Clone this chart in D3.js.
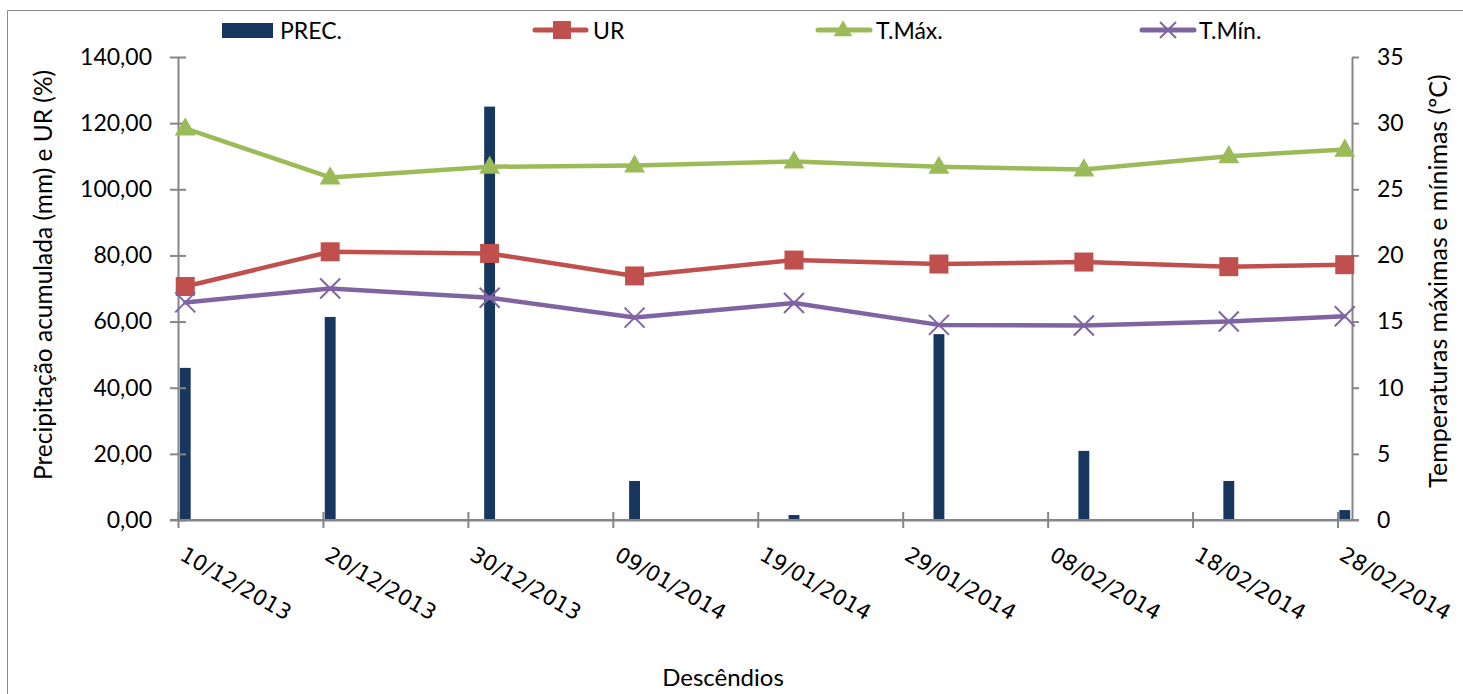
<!DOCTYPE html>
<html>
<head>
<meta charset="utf-8">
<script src="https://cdn.jsdelivr.net/npm/d3@7"></script>
<style>
  html, body { margin: 0; padding: 0; background: #fff; overflow: hidden; }
  svg { display: block; }
</style>
</head>
<body>
<svg id="chart" width="1463" height="694"></svg>
<script>
// ---------- data ----------
const dates   = ["2013-12-10","2013-12-20","2013-12-31","2014-01-10","2014-01-21","2014-01-31","2014-02-10","2014-02-20","2014-02-28"];
const prec    = [46.0, 61.4, 125.0, 11.8, 1.5, 56.2, 20.9, 11.8, 3.0];
const ur      = [70.6, 81.1, 80.6, 73.8, 78.6, 77.4, 78.0, 76.6, 77.2];
const tmax    = [29.6, 25.9, 26.7, 26.8, 27.1, 26.7, 26.5, 27.5, 28.0];
const tmin    = [16.45, 17.5, 16.8, 15.3, 16.4, 14.75, 14.7, 15.0, 15.4];
const tickDates = ["2013-12-10","2013-12-20","2013-12-30","2014-01-09","2014-01-19","2014-01-29","2014-02-08","2014-02-18","2014-02-28"];
const leftTicks  = [0, 20, 40, 60, 80, 100, 120, 140];
const rightTicks = [0, 5, 10, 15, 20, 25, 30, 35];
const xDomain = ["2013-12-10", "2014-03-01"];
const seriesNames = ["PREC.", "UR", "T.Máx.", "T.Mín."];

// ---------- setup ----------
const parse = d3.utcParse("%Y-%m-%d");
const svg = d3.select("#chart");
const H = 3600 * 1000;
const colors = { prec: "#17375E", ur: "#C0504D", tmax: "#9BBB59", tmin: "#8064A2", axis: "#868686" };
const font = "Lato, 'Open Sans', sans-serif";

const plot = { left: 178, right: 1352, top: 57, bottom: 520 };

const x = d3.scaleUtc().domain(xDomain.map(parse)).range([plot.left, plot.right]);
const yL = d3.scaleLinear().domain([0, 140]).range([plot.bottom, plot.top]);
const yR = d3.scaleLinear().domain([0, 35]).range([plot.bottom, plot.top]);

const locale = d3.formatLocale({ decimal: ",", thousands: ".", grouping: [3], currency: ["", ""] });
const fmt2 = locale.format(".2f");

// outer frame (top and left edges only are visible)
svg.append("path").attr("d", "M7.5,700V10.5H1470")
  .attr("fill", "none").attr("stroke", "#8a8a8a").attr("stroke-width", 1);

// ---------- bars ----------
const pts = dates.map((d, i) => ({ date: parse(d), prec: prec[i], ur: ur[i], tmax: tmax[i], tmin: tmin[i] }));

svg.append("g").selectAll("rect").data(pts).join("rect")
  .attr("x", d => x(new Date(+d.date + 3 * H)))
  .attr("width", d => x(new Date(+d.date + 21 * H)) - x(new Date(+d.date + 3 * H)))
  .attr("y", d => yL(d.prec))
  .attr("height", d => yL(0) - yL(d.prec))
  .attr("fill", colors.prec);

// ---------- axes ----------
const axL = svg.append("g").attr("transform", `translate(${plot.left},0)`)
  .call(d3.axisLeft(yL).tickValues(leftTicks).tickFormat(fmt2).tickSize(8).tickSizeOuter(0).tickPadding(18));
axL.selectAll(".tick line").attr("x1", 8);

const axR = svg.append("g").attr("transform", `translate(${plot.right},0)`)
  .call(d3.axisRight(yR).tickValues(rightTicks).tickSize(7).tickSizeOuter(0).tickPadding(18));

const fmtDate = d3.utcFormat("%d/%m/%Y");
const axB = svg.append("g").attr("transform", `translate(0,${plot.bottom})`)
  .call(d3.axisBottom(x).tickValues(tickDates.map(parse)).tickFormat(fmtDate).tickSize(8).tickSizeOuter(0));
axB.selectAll(".tick line").attr("y1", -8);
axB.selectAll(".tick text")
  .attr("x", 0).attr("y", 0).attr("dy", null)
  .attr("transform", "translate(0,39) rotate(30)")
  .style("text-anchor", "start")
  .style("font-family", "'DejaVu Sans', sans-serif")
  .style("font-size", "21.5px")
  .attr("fill", "#000");

[axL, axR].forEach(a => a.selectAll(".tick text")
  .style("font-family", font).style("font-size", "23px").attr("fill", "#000"));
[axL, axR, axB].forEach(a => {
  a.selectAll(".domain").attr("stroke", colors.axis).attr("stroke-width", 2);
  a.selectAll(".tick line").attr("stroke", colors.axis).attr("stroke-width", 2);
});
svg.append("line").attr("x1", plot.left - 8).attr("x2", plot.right + 7)
  .attr("y1", plot.bottom).attr("y2", plot.bottom).attr("stroke", colors.axis).attr("stroke-width", 2);

// ---------- lines ----------
const px = d => x(new Date(+d.date + 12 * H));
function drawLine(key, scale, color) {
  svg.append("path").datum(pts)
    .attr("fill", "none").attr("stroke", color).attr("stroke-width", 4.5)
    .attr("stroke-linejoin", "round").attr("stroke-linecap", "round")
    .attr("d", d3.line().x(px).y(d => scale(d[key])));
}
drawLine("tmax", yR, colors.tmax);
drawLine("ur", yL, colors.ur);
drawLine("tmin", yR, colors.tmin);

// markers
const tri = d3.symbol().type(d3.symbolTriangle).size(190);
svg.append("g").selectAll("path").data(pts).join("path")
  .attr("transform", d => `translate(${px(d)},${yR(d.tmax) + 1})`)
  .attr("d", tri()).attr("fill", colors.tmax);

svg.append("g").selectAll("rect").data(pts).join("rect")
  .attr("x", d => px(d) - 9.5).attr("y", d => yL(d.ur) - 9.5)
  .attr("width", 19).attr("height", 19).attr("fill", colors.ur);

svg.append("g").selectAll("path").data(pts).join("path")
  .attr("transform", d => `translate(${px(d)},${yR(d.tmin)})`)
  .attr("d", "M-10,-10L10,10M-10,10L10,-10")
  .attr("stroke", colors.tmin).attr("stroke-width", 2).attr("fill", "none");

// ---------- axis titles ----------
svg.append("text").attr("transform", "translate(52,275) rotate(-90)")
  .attr("text-anchor", "middle").style("font-family", font).style("font-size", "24.5px")
  .text("Precipitação acumulada (mm) e UR (%)");
svg.append("text").attr("transform", "translate(1447,281) rotate(-90)")
  .attr("text-anchor", "middle").style("font-family", font).style("font-size", "25px")
  .text("Temperaturas máximas e mínimas (ºC)");
svg.append("text").attr("x", 723).attr("y", 686)
  .attr("text-anchor", "middle").style("font-family", font).style("font-size", "24px")
  .text("Descêndios");

// ---------- legend ----------
const ly = 30;
const lg = svg.append("g");
lg.append("rect").attr("x", 222).attr("y", 23).attr("width", 51).attr("height", 15).attr("fill", colors.prec);
lg.append("text").attr("x", 280).attr("y", 39).style("font-family", font).style("font-size", "23px").text(seriesNames[0]);

lg.append("line").attr("x1", 535).attr("x2", 586).attr("y1", ly).attr("y2", ly)
  .attr("stroke", colors.ur).attr("stroke-width", 5).attr("stroke-linecap", "round");
lg.append("rect").attr("x", 553).attr("y", ly - 9).attr("width", 18).attr("height", 18).attr("fill", colors.ur);
lg.append("text").attr("x", 593).attr("y", 39).style("font-family", font).style("font-size", "23px").text(seriesNames[1]);

lg.append("line").attr("x1", 818).attr("x2", 870).attr("y1", ly).attr("y2", ly)
  .attr("stroke", colors.tmax).attr("stroke-width", 5).attr("stroke-linecap", "round");
lg.append("path").attr("transform", `translate(843,${ly + 1})`).attr("d", d3.symbol().type(d3.symbolTriangle).size(150)()).attr("fill", colors.tmax);
lg.append("text").attr("x", 876).attr("y", 39).style("font-family", font).style("font-size", "23px").text(seriesNames[2]);

lg.append("line").attr("x1", 1142).attr("x2", 1194).attr("y1", ly).attr("y2", ly)
  .attr("stroke", colors.tmin).attr("stroke-width", 5).attr("stroke-linecap", "round");
lg.append("path").attr("transform", `translate(1168,${ly})`).attr("d", "M-8,-8L8,8M-8,8L8,-8")
  .attr("stroke", colors.tmin).attr("stroke-width", 2);
lg.append("text").attr("x", 1199).attr("y", 39).style("font-family", font).style("font-size", "23px").text(seriesNames[3]);
</script>
</body>
</html>
